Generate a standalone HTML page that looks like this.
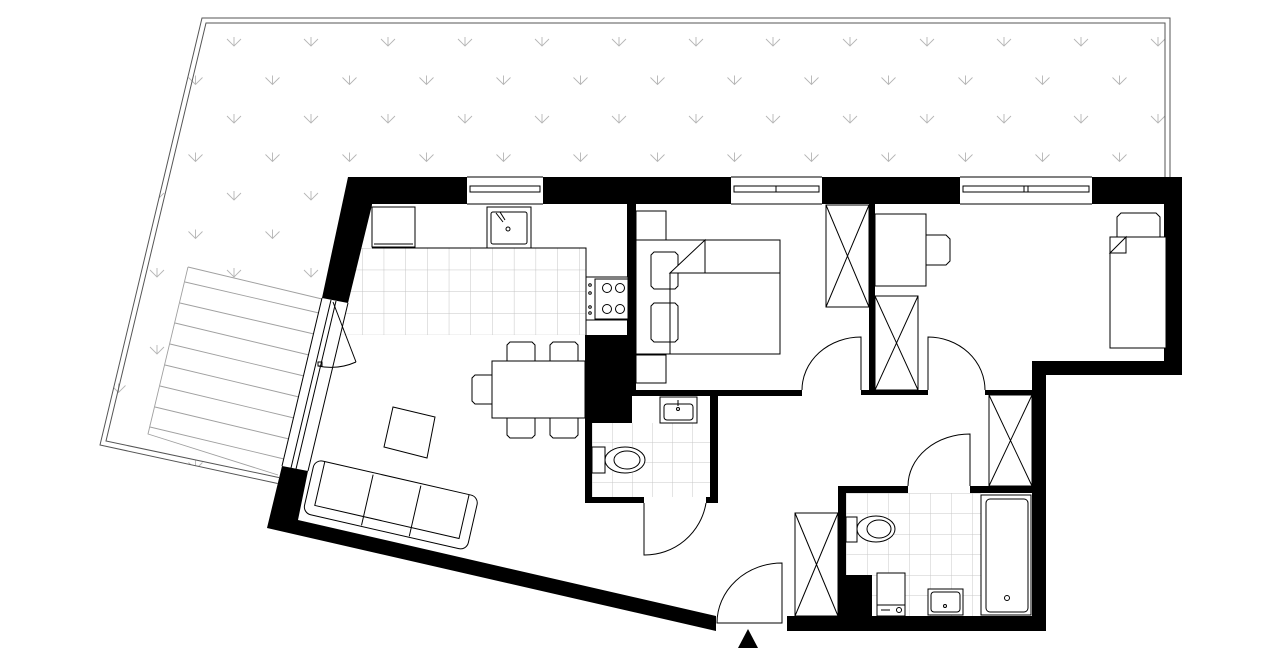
<!DOCTYPE html>
<html><head><meta charset="utf-8"><style>
html,body{margin:0;padding:0;background:#fff;width:1280px;height:667px;overflow:hidden}
svg{display:block}
</style></head><body>
<svg width="1280" height="667" viewBox="0 0 1280 667" xmlns="http://www.w3.org/2000/svg">
<defs>
<pattern id="arr" patternUnits="userSpaceOnUse" x="3" y="-32" width="77" height="77">
 <g stroke="#b5b5b5" stroke-width="0.9" fill="none">
  <path d="M-7,-6 L0,1 L7,-6 M0,-8 L0,1"/>
  <path d="M70,-6 L77,1 L84,-6 M77,-8 L77,1"/>
  <path d="M-7,71 L0,78 L7,71 M0,69 L0,78"/>
  <path d="M70,71 L77,78 L84,71 M77,69 L77,78"/>
  <path d="M31.5,32.5 L38.5,39.5 L45.5,32.5 M38.5,30.5 L38.5,39.5"/>
 </g>
</pattern>
<pattern id="tile" patternUnits="userSpaceOnUse" x="362" y="248" width="21.7" height="21.7">
 <path d="M0,0 L0,21.7 M0,0 L21.7,0" stroke="#c4c4c4" stroke-width="1" fill="none"/>
</pattern>
<pattern id="tile2" patternUnits="userSpaceOnUse" x="592" y="402" width="20" height="20">
 <path d="M0,0 L0,20 M0,0 L20,0" stroke="#c8c8c8" stroke-width="1" fill="none"/>
</pattern>
<pattern id="tile3" patternUnits="userSpaceOnUse" x="846" y="493" width="21" height="20.5">
 <path d="M0,0 L0,20.5 M0,0 L21,0" stroke="#c8c8c8" stroke-width="1" fill="none"/>
</pattern>
</defs>
<rect width="1280" height="667" fill="#fff"/>

<!-- terrace -->
<polygon points="202,18 1170,18 1170,178 348,178 322,298 282,466 277,483 100,445" fill="url(#arr)"/>
<polyline points="1170,178 1170,18 202,18 100,445 280,484" fill="none" stroke="#555" stroke-width="1"/>
<polyline points="1165,178 1165,23 206,23 106,441 281,478" fill="none" stroke="#555" stroke-width="1"/>

<!-- deck -->
<polygon points="188,267 322,298 282,466 276,476 148,434" fill="#fff"/>
<g stroke="#a0a0a0" stroke-width="0.9" fill="none">
 <path d="M188,267 L148,434 L278,475"/>
 <path d="M188,267 L322,299"/>
 <path d="M185,282 L319,313"/>
 <path d="M180,303 L314,334"/>
 <path d="M175,323 L309,355"/>
 <path d="M170,344 L304,376"/>
 <path d="M165,365 L299,397"/>
 <path d="M160,386 L294,418"/>
 <path d="M155,407 L289,439"/>
 <path d="M150,427 L284,459"/>
</g>

<!-- interior floor -->
<polygon points="348,177 1182,177 1182,375 1046,375 1046,631 716,631 267,528 322,298" fill="#fff"/>

<!-- tiles -->
<polygon points="361,248 586,248 586,335 340,335" fill="url(#tile)"/>
<rect x="592" y="423" width="118" height="74" fill="url(#tile2)"/>
<rect x="846" y="493" width="135" height="123" fill="url(#tile3)"/>

<!-- walls -->
<g fill="#000">
 <polygon points="348,177 372,177 372,205 348,303 322,298"/>
 <rect x="348" y="177" width="119" height="27"/>
 <rect x="543" y="177" width="188" height="27"/>
 <rect x="822" y="177" width="138" height="27"/>
 <rect x="1092" y="177" width="90" height="27"/>
 <rect x="1164" y="177" width="18" height="198"/>
 <rect x="1032" y="361" width="150" height="14"/>
 <rect x="1032" y="361" width="14" height="270"/>
 <rect x="787" y="616" width="259" height="15"/>
 <polygon points="282,466 308,471 298,520 716,616 716,631 267,528"/>
 <rect x="627" y="204" width="9" height="191"/>
 <rect x="585" y="335" width="47" height="88"/>
 <rect x="585" y="423" width="7" height="80"/>
 <rect x="585" y="497" width="59" height="6"/>
 <rect x="706" y="497" width="12" height="6"/>
 <rect x="710" y="395" width="8" height="108"/>
 <rect x="632" y="390" width="170" height="6"/>
 <rect x="869" y="204" width="6" height="191"/>
 <rect x="861" y="390" width="67" height="5"/>
 <rect x="985" y="390" width="47" height="5"/>
 <rect x="838" y="486" width="70" height="7"/>
 <rect x="970" y="486" width="62" height="7"/>
 <rect x="838" y="486" width="8" height="130"/>
 <rect x="838" y="575" width="34" height="41"/>
</g>

<!-- top windows -->
<g stroke="#000" stroke-width="1" fill="none">
 <path d="M467,177 H543 M467,204 H543"/><rect x="470" y="186" width="70" height="6"/>
 <path d="M731,177 H822 M731,204 H822"/><rect x="734" y="186" width="85" height="6"/><path d="M776,186 V192"/>
 <path d="M960,177 H1092 M960,204 H1092"/><rect x="963" y="186" width="126" height="6"/><path d="M1024,186 V192 M1028,186 V192"/>
</g>
<!-- slanted window/door -->
<g stroke="#000" stroke-width="1" fill="none">
 <path d="M322,298 L282,466"/>
 <path d="M348,303 L308,471"/>
 <path d="M331,300 L291,468"/>
 <path d="M336,301 L296,469"/>
 <path d="M333,302 L356,362"/>
 <path d="M356,362 A62,62 0 0 1 318,366"/>
 <rect x="318" y="362" width="4" height="4"/>
</g>

<!-- kitchen -->
<g stroke="#000" stroke-width="1" fill="#fff">
 <path d="M372,248 H586 V335" fill="none"/>
 <rect x="372" y="207" width="43" height="40"/>
 <path d="M374,244 H413" fill="none"/>
 <rect x="487" y="207" width="44" height="41"/>
 <rect x="491" y="212" width="36" height="32" rx="2"/>
 <circle cx="508" cy="229" r="2"/>
 <path d="M496,213 L503,222 M500,212 L505,220" fill="none"/>
 <rect x="586" y="277" width="42" height="43"/>
 <rect x="595" y="279" width="33" height="40" fill="none"/>
 <circle cx="607" cy="288" r="4.5"/><circle cx="620" cy="288" r="4.5"/>
 <circle cx="607" cy="309" r="4.5"/><circle cx="620" cy="309" r="4.5"/>
 <circle cx="590" cy="285" r="1.3"/><circle cx="590" cy="293" r="1.3"/><circle cx="590" cy="307" r="1.3"/><circle cx="590" cy="313" r="1.3"/>
</g>
<!-- dining -->
<g stroke="#000" stroke-width="1" fill="#fff">
 <path d="M507,361 V345 L510,342 H532 L535,345 V361"/>
 <path d="M550,361 V345 L553,342 H575 L578,345 V361"/>
 <path d="M507,418 V435 L510,438 H532 L535,435 V418"/>
 <path d="M550,418 V435 L553,438 H575 L578,435 V418"/>
 <path d="M492,375 H475 L472,378 V401 L475,404 H492"/>
 <rect x="492" y="361" width="93" height="57"/>
 <polygon points="393,407 435,417 427,458 384,447"/>
</g>
<!-- sofa -->
<g transform="translate(318,460) rotate(12.9)" stroke="#000" stroke-width="1" fill="#fff">
 <rect x="-3" y="0" width="168" height="55" rx="8"/>
 <path d="M7,0 V45 H155 V0" fill="none"/>
 <path d="M57,2 V54 M106,2 V54" fill="none"/>
</g>

<!-- WC1 -->
<g stroke="#000" stroke-width="1" fill="#fff">
 <rect x="660" y="397" width="37" height="26"/>
 <rect x="664" y="404" width="29" height="16" rx="3"/>
 <circle cx="678" cy="409" r="1.5"/><path d="M678,400 V406" fill="none"/>
 <rect x="592" y="447" width="13" height="26"/>
 <ellipse cx="625" cy="460" rx="20" ry="13"/>
 <ellipse cx="627" cy="460" rx="13" ry="9"/>
 <path d="M644,503 V555 A62,62 0 0 0 706,503" fill="none"/>
</g>

<!-- bedroom1 -->
<g stroke="#000" stroke-width="1" fill="#fff">
 <rect x="636" y="211" width="30" height="29"/>
 <rect x="636" y="355" width="30" height="28"/>
 <rect x="636" y="240" width="144" height="114"/>
 <path d="M651,255 L654,252 H675 L678,255 V286 L675,289 H654 L651,286 Z"/>
 <path d="M651,306 L654,303 H675 L678,306 V339 L675,342 H654 L651,339 Z"/>
 <path d="M670,273 L705,240 V273 Z"/>
 <rect x="670" y="273" width="110" height="81" fill="none"/>
 <rect x="826" y="205" width="43" height="102"/>
 <path d="M826,205 L869,307 M869,205 L826,307" fill="none"/>
 <path d="M861,390 V337 A59,53 0 0 0 802,390" fill="none"/>
</g>

<!-- bedroom2 -->
<g stroke="#000" stroke-width="1" fill="#fff">
 <path d="M926,235 H946 L950,239 V261 L946,265 H926"/>
 <rect x="875" y="214" width="51" height="72"/>
 <path d="M1117,217 L1121,213 H1156 L1160,217 V253 H1117 Z"/>
 <rect x="1110" y="237" width="56" height="111"/>
 <path d="M1110,253 L1126,237 V253 Z"/>
 <rect x="875" y="296" width="43" height="94"/>
 <path d="M875,296 L918,390 M918,296 L875,390" fill="none"/>
 <path d="M928,390 V337 A57,53 0 0 1 985,390" fill="none"/>
</g>

<!-- hall -->
<g stroke="#000" stroke-width="1" fill="#fff">
 <rect x="989" y="395" width="43" height="91"/>
 <path d="M989,395 L1032,486 M1032,395 L989,486" fill="none"/>
 <path d="M970,486 V434 A62,52 0 0 0 908,486" fill="none"/>
 <rect x="795" y="513" width="43" height="103"/>
 <path d="M795,513 L838,616 M838,513 L795,616" fill="none"/>
 <path d="M782,623 V563 A65,60 0 0 0 717,623 Z" fill="none"/>
</g>
<polygon points="748,629 758,648 738,648" fill="#000"/>

<!-- bathroom2 -->
<g stroke="#000" stroke-width="1" fill="#fff">
 <rect x="981" y="495" width="50" height="120"/>
 <rect x="986" y="499" width="42" height="113" rx="4"/>
 <circle cx="1007" cy="598" r="2.5"/>
 <rect x="846" y="517" width="11" height="25"/>
 <ellipse cx="876" cy="529" rx="19" ry="13"/>
 <ellipse cx="879" cy="529" rx="12" ry="9"/>
 <rect x="877" y="573" width="28" height="43"/>
 <path d="M877,605 H905 M881,610 H890" fill="none"/>
 <circle cx="899" cy="610" r="2.5"/>
 <rect x="928" y="589" width="35" height="26"/>
 <rect x="931" y="592" width="29" height="20" rx="3"/>
 <circle cx="945" cy="606" r="1.5"/>
</g>
</svg>
</body></html>
